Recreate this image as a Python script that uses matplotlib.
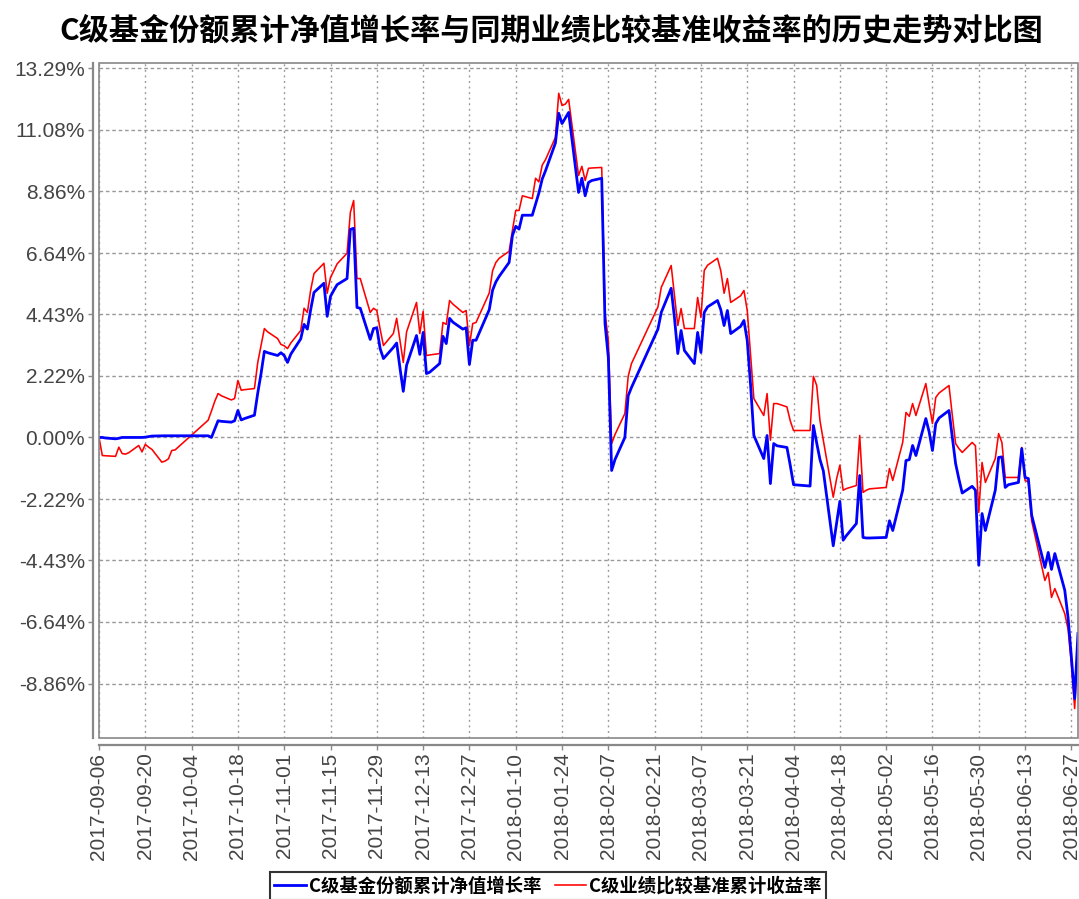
import matplotlib
matplotlib.use('Agg')
import matplotlib.pyplot as plt
from matplotlib.patches import Rectangle
import pandas as pd

plt.rcParams['font.family'] = ['Liberation Sans', 'Noto Sans CJK SC', 'DejaVu Sans']

title = 'C级基金份额累计净值增长率与同期业绩比较基准收益率的历史走势对比图'
series_names = ['C级基金份额累计净值增长率', 'C级业绩比较基准累计收益率']

dates = [
    '2017-09-06', '2017-09-07', '2017-09-08', '2017-09-11', '2017-09-12', '2017-09-13', '2017-09-14',
    '2017-09-15', '2017-09-18', '2017-09-19', '2017-09-20', '2017-09-21', '2017-09-22', '2017-09-25',
    '2017-09-26', '2017-09-27', '2017-09-28', '2017-09-29', '2017-10-09', '2017-10-10', '2017-10-11',
    '2017-10-12', '2017-10-13', '2017-10-16', '2017-10-17', '2017-10-18', '2017-10-19', '2017-10-20',
    '2017-10-23', '2017-10-24', '2017-10-25', '2017-10-26', '2017-10-27', '2017-10-30', '2017-10-31',
    '2017-11-01', '2017-11-02', '2017-11-03', '2017-11-06', '2017-11-07', '2017-11-08', '2017-11-09',
    '2017-11-10', '2017-11-13', '2017-11-14', '2017-11-15', '2017-11-16', '2017-11-17', '2017-11-20',
    '2017-11-21', '2017-11-22', '2017-11-23', '2017-11-24', '2017-11-27', '2017-11-28', '2017-11-29',
    '2017-11-30', '2017-12-01', '2017-12-04', '2017-12-05', '2017-12-06', '2017-12-07', '2017-12-08',
    '2017-12-11', '2017-12-12', '2017-12-13', '2017-12-14', '2017-12-15', '2017-12-18', '2017-12-19',
    '2017-12-20', '2017-12-21', '2017-12-22', '2017-12-25', '2017-12-26', '2017-12-27', '2017-12-28',
    '2017-12-29', '2018-01-02', '2018-01-03', '2018-01-04', '2018-01-05', '2018-01-08', '2018-01-09',
    '2018-01-10', '2018-01-11', '2018-01-12', '2018-01-15', '2018-01-16', '2018-01-17', '2018-01-18',
    '2018-01-19', '2018-01-22', '2018-01-23', '2018-01-24', '2018-01-25', '2018-01-26', '2018-01-29',
    '2018-01-30', '2018-01-31', '2018-02-01', '2018-02-02', '2018-02-05', '2018-02-06', '2018-02-07',
    '2018-02-08', '2018-02-09', '2018-02-12', '2018-02-13', '2018-02-14', '2018-02-22', '2018-02-23',
    '2018-02-26', '2018-02-27', '2018-02-28', '2018-03-01', '2018-03-02', '2018-03-05', '2018-03-06',
    '2018-03-07', '2018-03-08', '2018-03-09', '2018-03-12', '2018-03-13', '2018-03-14', '2018-03-15',
    '2018-03-16', '2018-03-19', '2018-03-20', '2018-03-21', '2018-03-22', '2018-03-23', '2018-03-26',
    '2018-03-27', '2018-03-28', '2018-03-29', '2018-03-30', '2018-04-02', '2018-04-03', '2018-04-04',
    '2018-04-09', '2018-04-10', '2018-04-11', '2018-04-12', '2018-04-13', '2018-04-16', '2018-04-17',
    '2018-04-18', '2018-04-19', '2018-04-20', '2018-04-23', '2018-04-24', '2018-04-25', '2018-04-26',
    '2018-04-27', '2018-05-02', '2018-05-03', '2018-05-04', '2018-05-07', '2018-05-08', '2018-05-09',
    '2018-05-10', '2018-05-11', '2018-05-14', '2018-05-15', '2018-05-16', '2018-05-17', '2018-05-18',
    '2018-05-21', '2018-05-22', '2018-05-23', '2018-05-24', '2018-05-25', '2018-05-28', '2018-05-29',
    '2018-05-30', '2018-05-31', '2018-06-01', '2018-06-04', '2018-06-05', '2018-06-06', '2018-06-07',
    '2018-06-08', '2018-06-11', '2018-06-12', '2018-06-13', '2018-06-14', '2018-06-15', '2018-06-19',
    '2018-06-20', '2018-06-21', '2018-06-22', '2018-06-25', '2018-06-26', '2018-06-27', '2018-06-28',
    '2018-06-29',
]

fund_growth = [
    0.00, 0.00, -0.02, -0.05, -0.03, 0.00, 0.00,
    0.00, 0.00, 0.00, 0.01, 0.03, 0.05, 0.06,
    0.06, 0.06, 0.06, 0.06, 0.06, 0.00, 0.30,
    0.60, 0.58, 0.55, 0.60, 0.97, 0.63, 0.68,
    0.80, 1.60, 2.30, 3.10, 3.05, 2.95, 3.05,
    2.95, 2.70, 3.00, 3.55, 4.07, 3.90, 4.60,
    5.22, 5.55, 4.36, 5.08, 5.30, 5.50, 5.72,
    7.49, 7.53, 4.68, 4.65, 3.53, 3.92, 3.95,
    3.20, 2.84, 3.24, 3.40, 2.50, 1.66, 2.60,
    3.67, 2.99, 3.78, 2.30, 2.35, 2.66, 3.64,
    3.38, 4.29, 4.15, 3.90, 3.95, 2.63, 3.50,
    3.50, 4.60, 5.30, 5.60, 5.80, 6.30, 7.27,
    7.60, 7.50, 8.00, 8.00, 8.40, 8.80, 9.30,
    9.60, 10.60, 11.67, 11.30, 11.50, 11.70, 8.82,
    9.33, 8.70, 9.18, 9.25, 9.33, 4.10, 2.88,
    -1.19, -0.80, 0.00, 1.50, 1.80, 3.90, 4.50,
    5.37, 4.30, 3.02, 3.85, 3.13, 2.66, 3.78,
    3.06, 4.50, 4.70, 4.93, 4.60, 4.03, 4.57,
    3.74, 4.00, 4.21, 3.49, 1.90, 0.07, -0.76,
    0.07, -1.66, -0.22, -0.30, -0.36, -1.00, -1.70,
    -1.75, 0.43, -0.20, -0.80, -1.20, -3.90, -3.10,
    -2.30, -3.70, -3.53, -3.10, -1.37, -3.60, -3.62,
    -3.62, -3.60, -3.00, -3.35, -1.90, -0.83, -0.80,
    -0.29, -0.65, 0.68, 0.20, -0.47, 0.50, 0.70,
    0.97, 0.00, -0.94, -1.50, -2.00, -1.76, -1.90,
    -4.60, -2.74, -3.35, -1.90, -0.72, -0.70, -1.80,
    -1.70, -1.62, -0.40, -1.44, -1.48, -2.80, -4.68,
    -4.14, -4.75, -4.18, -5.50, -6.48, -7.90, -9.40,
    -7.06,
]

benchmark_return = [
    0.00, -0.65, -0.66, -0.68, -0.35, -0.58, -0.60,
    -0.55, -0.29, -0.52, -0.25, -0.35, -0.43, -0.89,
    -0.85, -0.77, -0.47, -0.45, 0.62, 0.95, 1.30,
    1.58, 1.50, 1.35, 1.40, 2.05, 1.70, 1.72,
    1.76, 2.70, 3.30, 3.92, 3.80, 3.56, 3.35,
    3.30, 3.20, 3.40, 3.85, 4.65, 4.50, 5.30,
    5.90, 6.27, 5.19, 5.76, 6.00, 6.25, 6.63,
    8.10, 8.53, 5.72, 5.72, 4.50, 4.65, 4.57,
    3.90, 3.31, 3.74, 4.29, 3.50, 2.70, 3.80,
    4.86, 3.74, 4.54, 2.95, 2.97, 3.02, 4.14,
    4.07, 4.93, 4.80, 4.50, 4.57, 3.31, 4.10,
    4.14, 5.20, 6.00, 6.30, 6.45, 6.70, 7.45,
    8.17, 8.17, 8.70, 8.60, 9.33, 9.20, 9.80,
    10.00, 10.80, 12.39, 11.95, 12.00, 12.17, 9.43,
    9.76, 9.25, 9.69, 9.70, 9.72, 4.47, 3.49,
    -0.22, 0.10, 0.86, 2.20, 2.66, 4.70, 5.40,
    6.19, 5.10, 4.03, 4.64, 3.92, 3.92, 5.04,
    4.32, 6.01, 6.20, 6.45, 6.00, 5.19, 5.72,
    4.86, 5.10, 5.29, 4.57, 3.00, 1.40, 0.79,
    1.58, -0.10, 1.22, 1.22, 1.10, 0.60, 0.25,
    0.25, 2.20, 1.87, 0.60, -0.10, -2.15, -1.50,
    -1.00, -1.90, -1.84, -1.73, 0.07, -1.98, -1.90,
    -1.85, -1.80, -1.12, -1.55, -0.18, 0.90, 0.76,
    1.22, 0.79, 1.94, 1.20, 0.50, 1.44, 1.60,
    1.87, 0.80, -0.22, -0.40, -0.54, -0.18, -0.30,
    -2.70, -0.90, -1.62, -0.76, 0.14, -0.18, -1.44,
    -1.44, -1.44, -0.36, -1.55, -1.60, -3.00, -5.15,
    -4.86, -5.76, -5.44, -6.34, -6.90, -8.14, -9.76,
    -7.42,
]

ytick_values = [-8.86, -6.64, -4.43, -2.22, 0.00, 2.22, 4.43, 6.64, 8.86, 11.08, 13.29]
ytick_labels = ['-8.86%', '-6.64%', '-4.43%', '-2.22%', '0.00%', '2.22%', '4.43%',
                '6.64%', '8.86%', '11.08%', '13.29%']
xtick_first = '2017-09-06'
xtick_last = '2018-06-27'
xtick_step_days = 14
x_range = ('2017-09-06', '2018-06-29')
y_range = (-10.82, 13.48)

d = pd.to_datetime(dates)

fig = plt.figure(figsize=(10.79, 8.99), dpi=100)
fig.patch.set_facecolor('white')
ax = fig.add_axes([0.09175, 0.17909, 0.9073, 0.75083])

# spine layout first (set_position resets ticks)
for s in ['top', 'right']:
    ax.spines[s].set_visible(False)
ax.spines['left'].set_position(('outward', 4.5))
ax.spines['bottom'].set_position(('outward', 5))
for s in ['left', 'bottom']:
    ax.spines[s].set_color('#888888')
    ax.spines[s].set_linewidth(1.6)

ax.plot(d, benchmark_return, color='#FF0000', lw=1.15, zorder=3, label=series_names[1])
ax.plot(d, fund_growth, color='#0000FF', lw=2.0, zorder=4, label=series_names[0])

ax.set_xlim(pd.Timestamp(x_range[0]), pd.Timestamp(x_range[1]))
ax.set_ylim(*y_range)

xt = pd.date_range(xtick_first, xtick_last, freq=f'{xtick_step_days}D')
ax.set_xticks(xt)
ax.set_xticklabels([t.strftime('%Y-%m-%d') for t in xt])
ax.set_yticks(ytick_values)
ax.set_yticklabels(ytick_labels)

ax.tick_params(axis='both', colors='#888888', length=3.5, width=1.0,
               labelcolor='#444444', labelsize=15)
ax.tick_params(axis='y', pad=2)
ax.tick_params(axis='x', pad=2, labelrotation=90)

for v in ytick_values:
    ax.axhline(v, color='#999999', lw=1.0, ls=(0, (2.6, 2.0)), zorder=1)
for t in xt:
    ax.axvline(t, color='#999999', lw=1.0, ls=(0, (1.4, 2.6)), zorder=1)

ax.add_patch(Rectangle((0, 0), 1, 1, transform=ax.transAxes, fill=False,
                       ec='#888888', lw=1.2, clip_on=False, zorder=5))

fig.text(0.511, 0.966, title, ha='center', va='center', fontsize=21.7, fontweight='bold',
         family=['Noto Sans CJK SC', 'DejaVu Sans'], color='#000000')

h, l = ax.get_legend_handles_labels()
leg = fig.legend(h[::-1], l[::-1], loc='upper center', bbox_to_anchor=(0.508, 0.030),
                 ncol=2, frameon=True, fancybox=False, edgecolor='#000000',
                 prop={'family': ['Noto Sans CJK SC', 'DejaVu Sans'], 'weight': 'bold', 'size': 13.2},
                 handlelength=1.7, handletextpad=0.2, columnspacing=0.7,
                 borderpad=0.25, borderaxespad=0)
leg.get_frame().set_linewidth(1.5)

fig.savefig('out.png', dpi=100, facecolor='white')
